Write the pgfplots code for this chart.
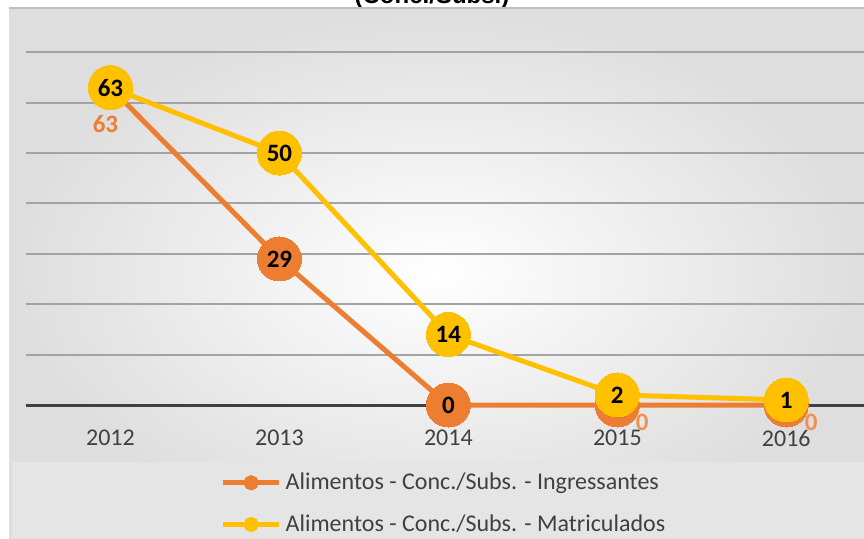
\documentclass[border=0pt]{standalone}
\usepackage{pgfplots}
\pgfplotsset{compat=1.18}
\usepackage{fontspec}
\setmainfont{Carlito}
\newfontfamily\arialfont{Liberation Sans}
\definecolor{ingr}{HTML}{ED7D31}
\definecolor{matr}{HTML}{FFC000}
\definecolor{txt}{HTML}{404040}

\begin{document}
\begin{tikzpicture}[x=1pt,y=1pt]
\useasboundingbox (0,0) rectangle (432,269);
\fill[white] (0,0) rectangle (432,269);
% title, mostly cut off above the page
\node[anchor=base, inner sep=0, font=\arialfont\bfseries\fontsize{12}{14}\selectfont] at (216,267.2) {(Conc./Subs.)};
% chart area background
\shade[inner color=white, outer color=black!13] (4.5,0) rectangle (432,265);
\draw[black!25, line width=0.8pt] (4.5,265) -- (432,265);
\fill[black!10] (6,0) rectangle (432,38);

\begin{axis}[
    at={(13pt,66.5pt)}, anchor=south west,
    scale only axis, width=419pt, height=198.5pt,
    xmin=-0.5, xmax=4.46, ymin=0, ymax=78.8,
    clip=false,
    /pgf/number format/assume math mode=true,
    axis x line*=bottom,
    y axis line style={draw=none},
    x axis line style={draw=txt, line width=1.5pt, -},
    xtick={0,1,2,3,4},
    xticklabels={2012,2013,2014,2015,2016},
    ytick={10,20,30,40,50,60,70},
    yticklabels={},
    major tick length=0pt,
    ymajorgrids,
    grid style={draw=black!36, line width=1pt},
    ticklabel style={font=\fontsize{12}{14}\selectfont, text=txt},
    xticklabel style={yshift=-9pt},
    legend style={at={(0.5,-0.15)}, anchor=north, draw=none, fill=none,
        font=\fontsize{12}{14}\selectfont, text=txt, row sep=7pt,
        legend cell align=left},
]
% Ingressantes
\addplot[ingr, line width=2.5pt, mark=*, mark size=11pt,
    mark options={fill=ingr, draw=ingr, line width=0pt},
    legend image code/.code={
        \draw[ingr, line width=2.5pt] (0pt,0pt) -- (28pt,0pt);
        \fill[ingr] (14pt,0pt) circle (2.5pt);}]
coordinates {(0,63) (1,29) (2,0) (3,0) (4,0)};
\addlegendentry{Alimentos - Conc./Subs. - Ingressantes}

% Matriculados
\addplot[matr, line width=2.5pt, mark=*, mark size=11pt,
    mark options={fill=matr, draw=matr, line width=0pt},
    legend image code/.code={
        \draw[matr, line width=2.5pt] (0pt,0pt) -- (28pt,0pt);
        \fill[matr] (14pt,0pt) circle (2.5pt);}]
coordinates {(0,63) (1,50) (2,14) (3,2) (4,1)};
\addlegendentry{Alimentos - Conc./Subs. - Matriculados}

% data labels
\addplot[draw=none, mark=none, forget plot, nodes near coords,
    every node near coord/.append style={anchor=center, text=black,
        font=\bfseries\fontsize{12.5}{14}\selectfont}]
coordinates {(1,29) (2,0)};
\addplot[draw=none, mark=none, forget plot, nodes near coords,
    every node near coord/.append style={anchor=center, text=black,
        font=\bfseries\fontsize{12.5}{14}\selectfont}]
coordinates {(0,63) (1,50) (2,14) (3,2) (4,1)};
\addplot[draw=none, mark=none, forget plot, nodes near coords,
    every node near coord/.append style={anchor=center, text=ingr,
        xshift=-2.5pt, yshift=-18pt,
        font=\bfseries\fontsize{12.5}{14}\selectfont}]
coordinates {(0,63)};
\addplot[draw=none, mark=none, forget plot, nodes near coords,
    every node near coord/.append style={anchor=center, text=ingr!85,
        xshift=12.5pt, yshift=-8.5pt,
        font=\bfseries\fontsize{12.5}{14}\selectfont}]
coordinates {(3,0) (4,0)};
\end{axis}
\end{tikzpicture}
\end{document}
